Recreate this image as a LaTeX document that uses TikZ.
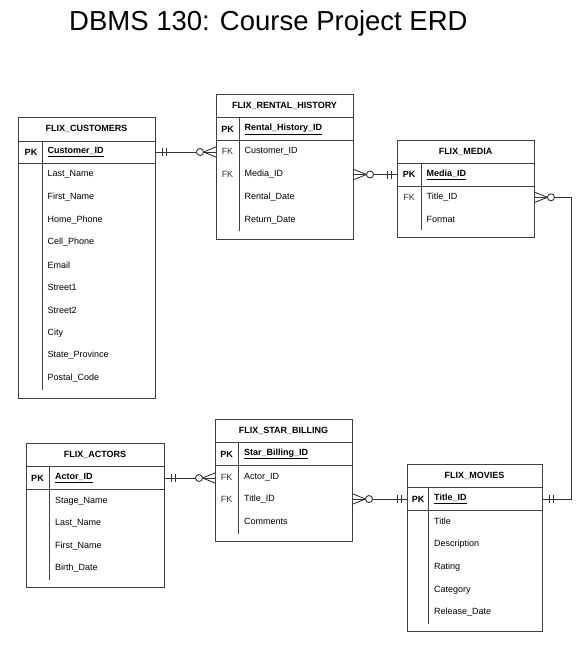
\documentclass[tikz,border=0pt]{standalone}
\usepackage{fontspec}
\setmainfont{Liberation Sans}
\usetikzlibrary{calc}

\tikzset{
  tbl/.style={draw=black!75, line width=1pt, anchor=north west, inner sep=0pt},
  tline/.style={draw=black!75, line width=1pt},
  hdr/.style={font=\fontsize{9}{10}\selectfont\bfseries, inner sep=0pt},
  pklbl/.style={font=\fontsize{9}{10}\selectfont\bfseries, inner sep=0pt},
  fklbl/.style={font=\fontsize{9}{10}\selectfont, inner sep=0pt, text=black!80},
  fld/.style={font=\fontsize{9}{10}\selectfont, anchor=west, inner sep=0pt},
  pkfld/.style={fld, font=\fontsize{9}{10}\selectfont\bfseries},
  rel/.style={draw=black!80, line width=0.9pt},
}

% one and only one
\newcommand{\onemark}[2]{%
  \draw[rel] (#1) ++({#2*6},-4) -- ++(0,8) ++({#2*4},0) -- ++(0,-8);}
% zero or many
\newcommand{\manymark}[2]{%
  \draw[rel] (#1) ++(0,-5) -- ++({#2*12.5},5) -- ++({#2*(-12.5)},5);
  \draw[rel,fill=white] (#1) ++({#2*16},0) circle [radius=3.5];}

\begin{document}
\begin{tikzpicture}[x=1pt,y=-1pt]
\useasboundingbox (0,0) rectangle (581,657);

\node[font=\fontsize{27.5}{30}\selectfont, anchor=west, inner sep=0pt] (title) at (69,23) {DBMS 130: Course Project ERD};

% FLIX_CUSTOMERS
\node[tbl, minimum width=137pt, minimum height=281pt] (cust) at (18,117) {};
\draw[tline] (18,141) -- (155,141);
\draw[tline] (18,163) -- (155,163);
\draw[tline] (42,141) -- (42,390);
\node[hdr] (custhdr) at (86.5,129) {FLIX\_CUSTOMERS};
\node[pklbl] (custpk) at (31,152) {PK};
\node[pkfld] (custid) at (47.5,152) {\underline{Customer\_ID}};
\node[fld] (custlast) at (47.5,174.5) {Last\_Name};
\node[fld] (custfirst) at (47.5,197) {First\_Name};
\node[fld] (custhome) at (47.5,219.7) {Home\_Phone};
\node[fld] (custcell) at (47.5,242.3) {Cell\_Phone};
\node[fld] (custmail) at (47.5,265) {Email};
\node[fld] (custst1) at (47.5,287.5) {Street1};
\node[fld] (custst2) at (47.5,310) {Street2};
\node[fld] (custcity) at (47.5,332.7) {City};
\node[fld] (custstate) at (47.5,355.3) {State\_Province};
\node[fld] (custzip) at (47.5,378) {Postal\_Code};

% FLIX_RENTAL_HISTORY
\node[tbl, minimum width=137pt, minimum height=145pt] (rent) at (216,94) {};
\draw[tline] (216,117.3) -- (353,117.3);
\draw[tline] (216,140) -- (353,140);
\draw[tline] (239,117.3) -- (239,231);
\node[hdr] (renthdr) at (284.5,106) {FLIX\_RENTAL\_HISTORY};
\node[pklbl] (rentpk) at (227.5,129.3) {PK};
\node[pkfld] (rentid) at (244.5,129.3) {\underline{Rental\_History\_ID}};
\node[fklbl] (rentfk1) at (227.5,151.7) {FK};
\node[fld] (rentcust) at (244.5,151.7) {Customer\_ID};
\node[fklbl] (rentfk2) at (227.5,174.5) {FK};
\node[fld] (rentmedia) at (244.5,174.5) {Media\_ID};
\node[fld] (rentdate) at (244.5,197.3) {Rental\_Date};
\node[fld] (rentret) at (244.5,220) {Return\_Date};

% FLIX_MEDIA
\node[tbl, minimum width=137pt, minimum height=97pt] (media) at (397,140) {};
\draw[tline] (397,163) -- (534,163);
\draw[tline] (397,186) -- (534,186);
\draw[tline] (421,163) -- (421,230);
\node[hdr] (mediahdr) at (465.5,152) {FLIX\_MEDIA};
\node[pklbl] (mediapk) at (409,174.5) {PK};
\node[pkfld] (mediaid) at (426.5,174.5) {\underline{Media\_ID}};
\node[fklbl] (mediafk) at (409,197.3) {FK};
\node[fld] (mediatitle) at (426.5,197.3) {Title\_ID};
\node[fld] (mediafmt) at (426.5,219.5) {Format};

% FLIX_ACTORS
\node[tbl, minimum width=138pt, minimum height=144pt] (actor) at (26,443) {};
\draw[tline] (26,466) -- (164,466);
\draw[tline] (26,489) -- (164,489);
\draw[tline] (49.5,466) -- (49.5,580);
\node[hdr] (actorhdr) at (95,454.5) {FLIX\_ACTORS};
\node[pklbl] (actorpk) at (37.5,478) {PK};
\node[pkfld] (actorid) at (55,478) {\underline{Actor\_ID}};
\node[fld] (actorstage) at (55,501) {Stage\_Name};
\node[fld] (actorlast) at (55,523.5) {Last\_Name};
\node[fld] (actorfirst) at (55,546) {First\_Name};
\node[fld] (actorbirth) at (55,568.5) {Birth\_Date};

% FLIX_STAR_BILLING
\node[tbl, minimum width=137pt, minimum height=122pt] (star) at (215,419) {};
\draw[tline] (215,442.3) -- (352,442.3);
\draw[tline] (215,465) -- (352,465);
\draw[tline] (238.5,442.3) -- (238.5,533.5);
\node[hdr] (starhdr) at (283.5,431) {FLIX\_STAR\_BILLING};
\node[pklbl] (starpk) at (226.5,454) {PK};
\node[pkfld] (starid) at (244,454) {\underline{Star\_Billing\_ID}};
\node[fklbl] (starfk1) at (226.5,477) {FK};
\node[fld] (staractor) at (244,477) {Actor\_ID};
\node[fklbl] (starfk2) at (226.5,499) {FK};
\node[fld] (startitle) at (244,499) {Title\_ID};
\node[fld] (starnote) at (244,521.7) {Comments};

% FLIX_MOVIES
\node[tbl, minimum width=135pt, minimum height=167pt] (movie) at (407,464) {};
\draw[tline] (407,487.3) -- (542,487.3);
\draw[tline] (407,510) -- (542,510);
\draw[tline] (428.5,487.3) -- (428.5,623.5);
\node[hdr] (moviehdr) at (474.5,476) {FLIX\_MOVIES};
\node[pklbl] (moviepk) at (418,499) {PK};
\node[pkfld] (movieid) at (434,499) {\underline{Title\_ID}};
\node[fld] (movietitle) at (434,521.7) {Title};
\node[fld] (moviedesc) at (434,544.3) {Description};
\node[fld] (movierate) at (434,567.3) {Rating};
\node[fld] (moviecat) at (434,590) {Category};
\node[fld] (moviedate) at (434,612.3) {Release\_Date};

% relationships
\coordinate (c1a) at (cust.east |- custid);
\coordinate (c1b) at (rent.west |- custid);
\coordinate (c2a) at (rent.east |- mediaid);
\coordinate (c2b) at (media.west |- mediaid);
\coordinate (c3a) at (media.east |- mediatitle);
\coordinate (c3b) at (movie.east |- movieid);
\coordinate (c4a) at (actor.east |- actorid);
\coordinate (c4b) at (star.west |- actorid);
\coordinate (c5a) at (star.east |- movieid);
\coordinate (c5b) at (movie.west |- movieid);

\draw[rel] (c1a) -- (c1b);
\draw[rel] (c2a) -- (c2b);
\draw[rel] (c3a) -- ++(36,0) |- (c3b);
\draw[rel] (c4a) -- (c4b);
\draw[rel] (c5a) -- (c5b);

\onemark{c1a}{1}
\manymark{c1b}{-1}
\manymark{c2a}{1}
\onemark{c2b}{-1}
\manymark{c3a}{1}
\onemark{c3b}{1}
\onemark{c4a}{1}
\manymark{c4b}{-1}
\manymark{c5a}{1}
\onemark{c5b}{-1}
\end{tikzpicture}
\end{document}
